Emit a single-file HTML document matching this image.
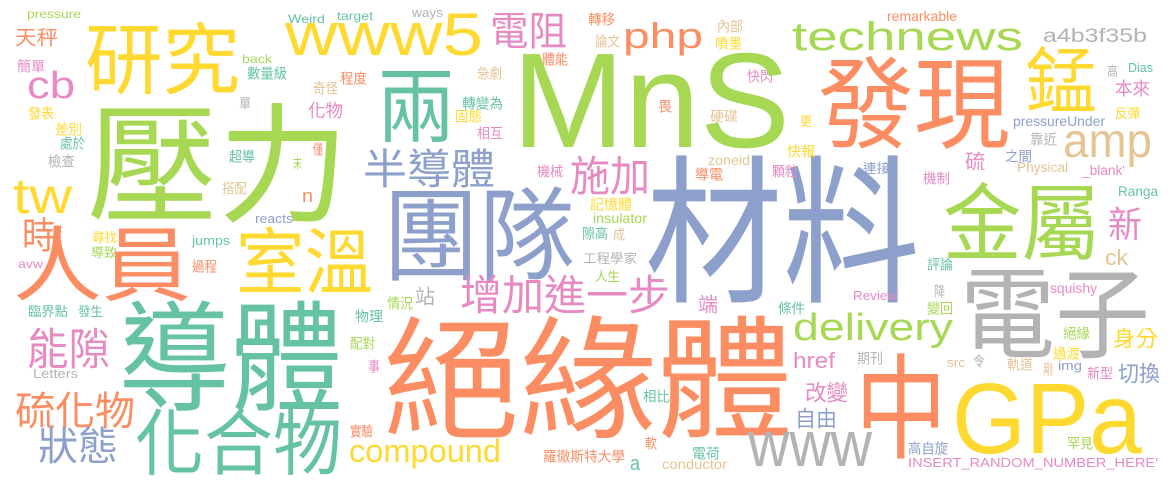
<!DOCTYPE html>
<html><head><meta charset="utf-8">
<style>
html,body{margin:0;padding:0;background:#fff;}
svg{display:block;}
text{font-family:"Liberation Sans","Noto Sans CJK TC",sans-serif;}
</style></head>
<body>
<svg id="cloud" width="1175" height="482" viewBox="0 0 1175 482" xmlns="http://www.w3.org/2000/svg">
<rect width="1175" height="482" fill="#fff"/>
</svg>
<script>
// palette
const C = {lime:"#a6d854",teal:"#66c2a5",yellow:"#ffd92f",orange:"#fc8d62",blue:"#8da0cb",pink:"#e78ac3",gray:"#b3b3b3",tan:"#e5c494"};
// CJK words: text, left, ink-top, font size, width, color
const cjkWords = [
["壓力",87,104,130,262,"lime"],["研究",85,23,78,155,"yellow"],["兩",377,67,82,78,"teal"],
["人員",13,226,82,178,"orange"],["時",22,218,37,33,"orange"],["室溫",236,228,72,137,"yellow"],
["團隊",383,188,102,192,"blue"],["半導體",363,149,42,132,"blue"],["施加",570,156,42,80,"pink"],
["導體",118,302,120,225,"teal"],["化合物",135,409,72,207,"teal"],["絕緣體",383,317,133,410,"orange"],
["增加進一步",460,275,42,210,"pink"],["能隙",27,328,44,83,"pink"],["硫化物",15,392,40,120,"orange"],
["狀態",38,427,40,80,"blue"],["材料",645,157,160,275,"blue"],["電子",960,267,100,190,"gray"],
["中",855,355,114,92,"orange"],["金屬",943,184,84,157,"lime"],["發現",818,57,100,192,"orange"],
["錳",1025,47,72,72,"yellow"],["電阻",490,12,40,77,"pink"],["天秤",15,28,20,43,"orange"],
["化物",308,102,18,35,"pink"],["硫",965,152,20,20,"pink"],["本來",1115,80,18,35,"pink"],
["新",1108,207,36,34,"pink"],["站",415,287,20,20,"gray"],["端",698,295,20,20,"pink"],
["身分",1113,328,22,45,"yellow"],["切換",1118,363,22,42,"blue"],["改變",805,382,22,43,"pink"],
["自由",795,408,22,42,"blue"],
["簡單",17,60,14,28,"pink"],["發表",28,107,14,26,"yellow"],["差別",55,123,14,27,"yellow"],
["處於",60,137,14,25,"teal"],["檢查",48,155,14,27,"gray"],["數量級",247,67,14,40,"teal"],
["程度",340,72,14,27,"orange"],["奇怪",313,82,14,25,"tan"],["單",239,97,14,12,"gray"],
["超導",229,150,14,26,"teal"],["僅",313,143,14,10,"orange"],["末",293,157,14,9,"lime"],
["搭配",222,182,14,25,"tan"],["尋找",92,231,13,25,"yellow"],["導致",91,246,13,26,"lime"],
["過程",192,260,14,25,"orange"],["臨界點",28,305,13,40,"teal"],["發生",78,305,13,25,"teal"],
["物理",355,310,14,28,"teal"],["情況",387,297,14,26,"lime"],["配對",350,337,14,25,"lime"],
["事",368,360,14,12,"pink"],["實驗",350,425,14,23,"orange"],["羅徹斯特大學",543,450,14,82,"orange"],
["軟",645,437,14,12,"orange"],["電荷",692,447,14,28,"teal"],["相比",643,390,14,27,"teal"],
["工程學家",583,252,13,54,"gray"],["人生",595,270,13,25,"lime"],["轉移",588,13,14,27,"orange"],
["論文",595,35,14,25,"tan"],["內部",717,20,14,26,"tan"],["噴墨",715,37,14,27,"yellow"],
["體能",542,53,14,26,"orange"],["急劇",477,67,14,25,"tan"],["快閃",747,70,14,26,"pink"],
["轉變為",462,97,14,41,"teal"],["固態",455,110,14,27,"yellow"],["相互",477,127,14,26,"pink"],
["畏",658,100,14,14,"orange"],["硬碟",710,110,14,28,"tan"],["導電",695,168,14,28,"orange"],
["機械",537,165,14,26,"pink"],["記憶體",590,198,14,42,"yellow"],["隙高",582,227,14,26,"teal"],
["成",613,228,14,12,"tan"],["顆粒",772,165,14,26,"pink"],["快報",787,145,14,28,"yellow"],
["更",800,115,13,12,"yellow"],["高",1107,65,13,11,"gray"],["反彈",1115,107,13,25,"yellow"],
["靠近",1030,133,14,27,"gray"],["之間",1005,150,14,27,"blue"],["連接",863,162,13,27,"blue"],
["機制",923,172,14,27,"pink"],["評論",927,258,14,26,"teal"],["降",934,285,14,11,"gray"],
["條件",778,302,14,27,"teal"],["變回",927,302,14,26,"lime"],["絕緣",1063,327,14,27,"lime"],
["過渡",1053,347,14,27,"yellow"],["期刊",857,352,14,26,"gray"],["令",973,355,14,12,"gray"],
["軌道",1007,358,14,26,"tan"],["剛",1043,363,14,10,"tan"],["新型",1087,367,14,26,"pink"],
["高自旋",908,442,14,40,"blue"],["罕見",1067,437,14,26,"lime"]
];
// Latin words: text, left, baseline, font size, width, color
const latinWords = [
["MnS",512,147,135,278,"lime"],["GPa",952,453,100,190,"yellow"],["www5",285,55,60,198,"yellow"],
["technews",792,50,40,231,"lime"],["amp",1063,157,48,89,"tan"],["delivery",793,340,38,160,"lime"],
["compound",349,462,32,152,"yellow"],["www",748,466,64,124,"gray"],["cb",27,98,38,48,"pink"],
["tw",13,213,50,59,"yellow"],["php",623,48,36,80,"orange"],["a4b3f35b",1043,42,19,104,"gray"],
["pressure",27,18,12,54,"lime"],["Weird",288,23,12,37,"teal"],["target",337,20,12,36,"teal"],
["back",242,63,12,30,"lime"],["n",302,202,18,11,"orange"],["reacts",255,223,13,38,"blue"],
["jumps",192,245,13,38,"teal"],["avw",18,268,12,25,"pink"],["Letters",33,378,13,45,"gray"],
["a",630,470,20,10,"teal"],["conductor",662,469,14,65,"tan"],["ways",412,17,13,31,"gray"],
["zoneid",708,165,14,42,"tan"],["insulator",593,223,14,54,"lime"],["remarkable",887,21,14,70,"orange"],
["Dias",1128,72,13,25,"teal"],["pressureUnder",1013,126,14,92,"blue"],["Physical",1017,172,14,51,"tan"],
["_blank'",1082,175,14,43,"pink"],["Ranga",1118,196,14,40,"teal"],["ck",1105,265,22,23,"tan"],
["Review",853,300,13,44,"pink"],["squishy",1050,293,14,47,"pink"],["href",793,368,22,42,"pink"],
["src",947,367,13,18,"tan"],["img",1058,370,13,24,"blue"],["INSERT_RANDOM_NUMBER_HERE'",908,467,13,250,"pink"]
];
const svg = document.getElementById('cloud');
const NS = "http://www.w3.org/2000/svg";
function slug(s){return s.replace(/[^A-Za-z0-9]+/g,'-').replace(/^-|-$/g,'').toLowerCase();}
cjkWords.forEach(function(w,i){
  const t = document.createElementNS(NS,'text');
  t.setAttribute('x', w[1]);
  t.setAttribute('y', (w[2] + 0.83*w[3]).toFixed(1));
  t.setAttribute('font-size', w[3]);
  t.setAttribute('fill', C[w[5]]);
  t.setAttribute('textLength', w[4]);
  t.setAttribute('lengthAdjust', 'spacingAndGlyphs');
  
  
  t.textContent = w[0];
  svg.appendChild(t);
});
latinWords.forEach(function(w){
  const t = document.createElementNS(NS,'text');
  t.setAttribute('x', w[1]);
  t.setAttribute('y', w[2]);
  t.setAttribute('font-size', w[3]);
  t.setAttribute('fill', C[w[5]]);
  t.setAttribute('textLength', w[4]);
  t.setAttribute('lengthAdjust', 'spacingAndGlyphs');
  
  
  t.textContent = w[0];
  svg.appendChild(t);
});
</script>
</body></html>
